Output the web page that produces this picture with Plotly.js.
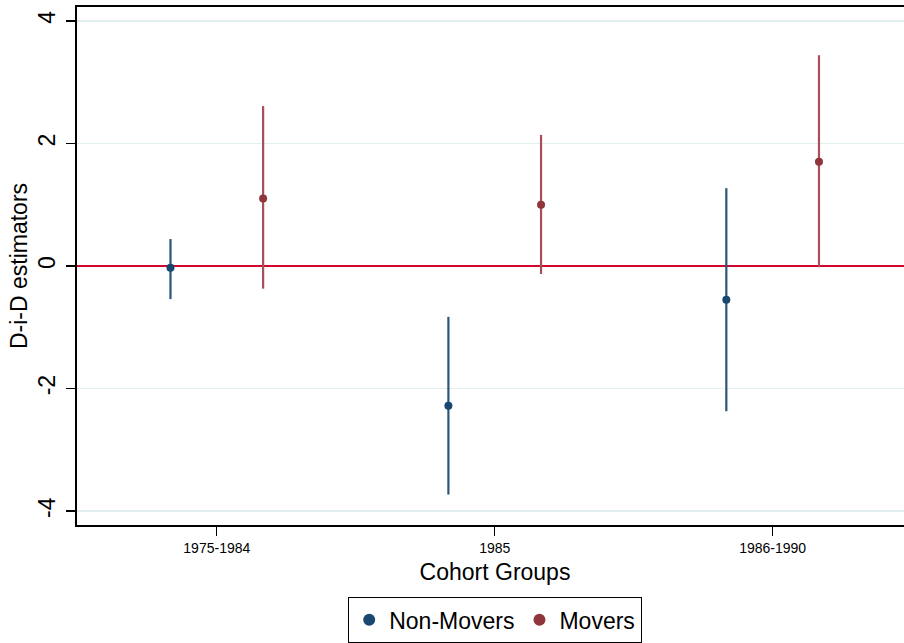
<!DOCTYPE html>
<html>
<head>
<meta charset="utf-8">
<script src="https://cdn.plot.ly/plotly-3.0.1.min.js"></script>
<style>
html,body{margin:0;padding:0;overflow:hidden;background:#fff;}
#chart{width:913px;height:643px;}
</style>
</head>
<body>
<div id="chart"></div>
<script>
// Data
const categories = ["1975-1984", "1985", "1986-1990"];
const nonMoversEst = [-0.03, -2.28, -0.55];
const nonMoversLo  = [-0.54, -3.73, -2.37];
const nonMoversHi  = [0.44, -0.83, 1.27];
const moversEst = [1.10, 1.00, 1.70];
const moversLo  = [-0.37, -0.13, -0.02];
const moversHi  = [2.61, 2.14, 3.44];
const yTicks = [-4, -2, 0, 2, 4];

const offset = 1/6;
const idx = categories.map((c, i) => i);

function trace(name, est, lo, hi, shift, color, barColor) {
  return {
    type: 'scatter', mode: 'markers', name: name,
    x: idx.map(i => i + shift), y: est,
    marker: {color: color, size: 8},
    error_y: {
      type: 'data', symmetric: false,
      array: est.map((v, i) => hi[i] - v),
      arrayminus: est.map((v, i) => v - lo[i]),
      color: barColor, thickness: 2.2, width: 0
    },
    hoverinfo: 'x+y'
  };
}

const data = [
  trace('Non-Movers', nonMoversEst, nonMoversLo, nonMoversHi, -offset, '#1a476f', '#2b5679'),
  trace('Movers', moversEst, moversLo, moversHi, offset, '#90353b', '#a8505a')
];

const font = "'Liberation Sans', Arial, Helvetica, sans-serif";

const layout = {
  width: 913, height: 643,
  margin: {l: 77, r: 0, t: 7, b: 115},
  paper_bgcolor: '#ffffff', plot_bgcolor: '#ffffff',
  font: {family: font, color: '#000'},
  showlegend: true,
  legend: {
    orientation: 'h', x: 0.5, xanchor: 'center', xref: 'paper',
    y: -0.14, yanchor: 'top',
    bordercolor: '#000', borderwidth: 1.2,
    font: {size: 23, family: font},
    itemsizing: 'constant', tracegroupgap: 0,
    bgcolor: '#fff'
  },
  xaxis: {
    range: [-0.503, 2.505],
    tickvals: idx, ticktext: categories,
    tickfont: {size: 14, family: font},
    ticks: 'outside', ticklen: 9, tickwidth: 1.2, tickcolor: '#000',
    showline: true, linecolor: '#000', linewidth: 2, mirror: true,
    showgrid: false, zeroline: false,
    title: {text: 'Cohort Groups', font: {size: 23, family: font}, standoff: 9}
  },
  yaxis: {
    range: [-4.227, 4.227],
    tickvals: yTicks, ticktext: yTicks.map(String),
    tickangle: -90,
    tickfont: {size: 23, family: font},
    ticks: 'outside', ticklen: 9, tickwidth: 1.2, tickcolor: '#000',
    ticklabelstandoff: 2,
    showline: true, linecolor: '#000', linewidth: 2, mirror: true,
    showgrid: true, gridcolor: '#e3eef0', gridwidth: 1.5,
    zeroline: true, zerolinecolor: '#d2062f', zerolinewidth: 2,
    title: {text: 'D-i-D estimators', font: {size: 23, family: font}, standoff: 0}
  }
};

Plotly.newPlot('chart', data, layout, {displayModeBar: false, staticPlot: true});
</script>
</body>
</html>
